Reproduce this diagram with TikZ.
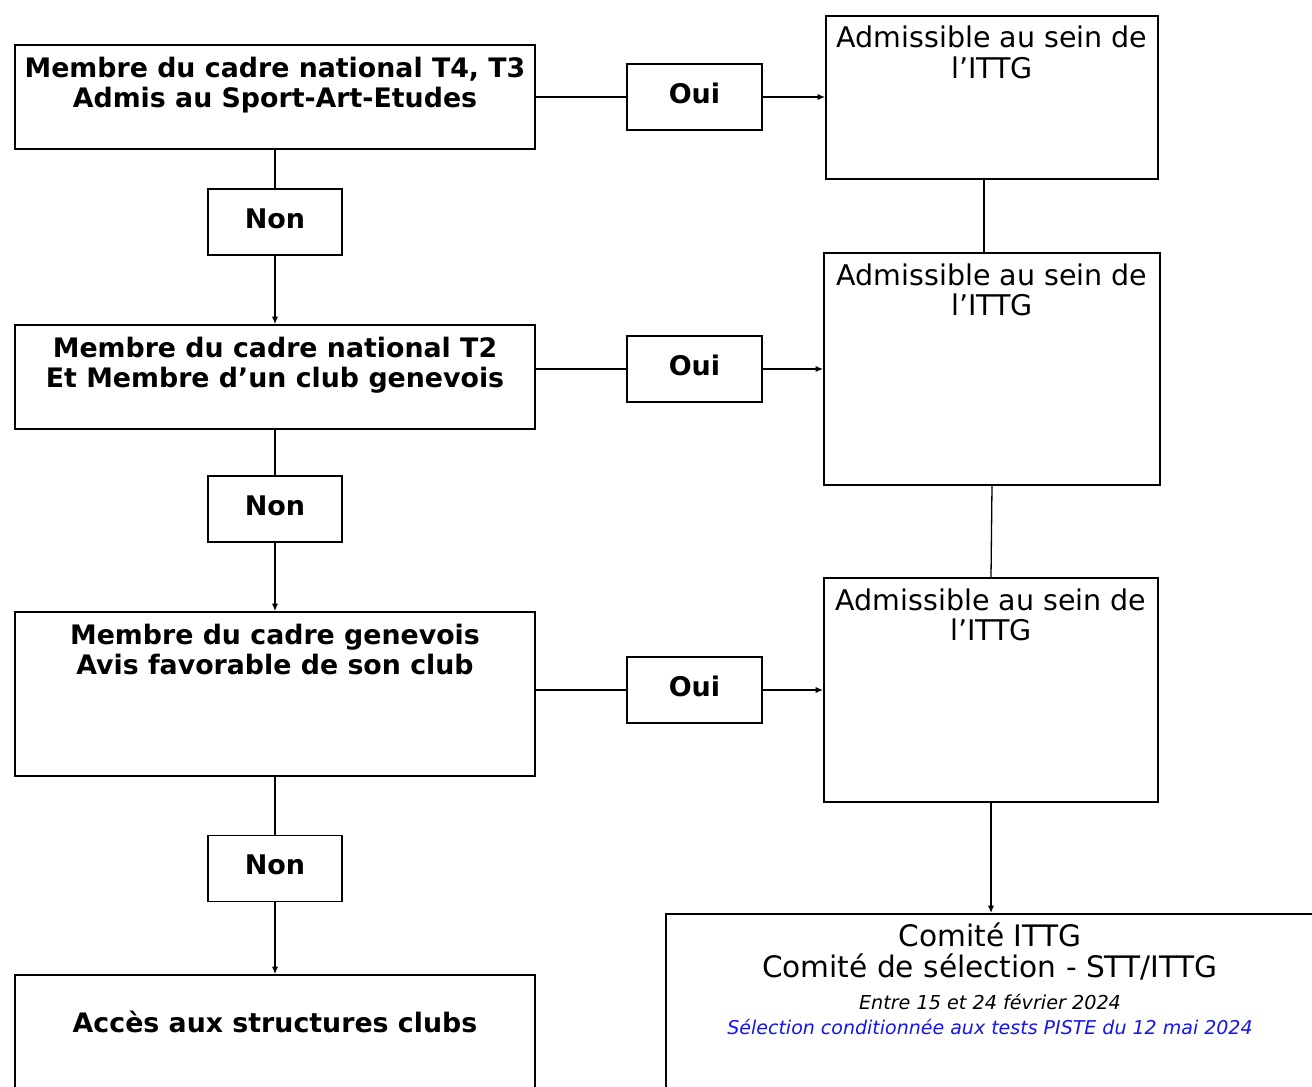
\documentclass[tikz,border=0pt]{standalone}
\usepackage{fontspec}
\setmainfont{DejaVu Sans}
\usetikzlibrary{arrows.meta}
\definecolor{linkblue}{RGB}{20,20,240}
\begin{document}
\begin{tikzpicture}[x=1pt,y=-1pt,
  bigbox/.style={draw,line width=2pt,inner sep=0pt,rectangle},
  smallbox/.style={draw,line width=1.3pt,inner sep=0pt,rectangle,minimum width=134pt,minimum height=66pt,text height=20pt,text depth=8pt,font=\fontsize{27}{30}\selectfont\bfseries},
  boldtxt/.style={anchor=base,inner sep=0pt,font=\fontsize{26.8}{30}\selectfont\bfseries},
  regtxt/.style={anchor=base,inner sep=0pt,font=\fontsize{28.5}{30}\selectfont},
  conn/.style={line width=1.3pt},
  arr/.style={line width=1.3pt,-{Latex[length=7.5pt,width=6.5pt]}}]
\useasboundingbox (0,0) rectangle (1312,1087);
% left column boxes
\node[bigbox,minimum width=520pt,minimum height=104pt] (a1) at (275,97) {};
\node[bigbox,minimum width=520pt,minimum height=104pt] (a2) at (275,377) {};
\node[bigbox,minimum width=520pt,minimum height=164pt] (a3) at (275,694) {};
\node[bigbox,minimum width=520pt,minimum height=160pt] (a4) at (275,1055) {};
\node[boldtxt] (a1t1) at (275,77) {Membre du cadre national T4, T3};
\node[boldtxt] (a1t2) at (275,107) {Admis au Sport-Art-Etudes};
\node[boldtxt] (a2t1) at (275,357) {Membre du cadre national T2};
\node[boldtxt] (a2t2) at (275,387) {Et Membre d’un club genevois};
\node[boldtxt] (a3t1) at (275,644) {Membre du cadre genevois};
\node[boldtxt] (a3t2) at (275,674) {Avis favorable de son club};
\node[boldtxt] (a4t1) at (275,1032) {Accès aux structures clubs};
% Non boxes
\node[smallbox] (n1) at (275,222) {Non};
\node[smallbox] (n2) at (275,509) {Non};
\node[smallbox] (n3) at (275,868.5) {Non};
% Oui boxes
\node[smallbox,minimum width=135pt] (o1) at (694.5,97) {Oui};
\node[smallbox,minimum width=135pt] (o2) at (694.5,369) {Oui};
\node[smallbox,minimum width=135pt] (o3) at (694.5,690) {Oui};
% right column boxes
\node[bigbox,minimum width=332pt,minimum height=163pt] (b1) at (992,97.5) {};
\node[bigbox,minimum width=336pt,minimum height=232pt] (b2) at (992,369) {};
\node[bigbox,minimum width=334pt,minimum height=224pt] (b3) at (991,690) {};
\node[regtxt] (b1t1) at (992,47) {Admissible au sein de};
\node[regtxt] (b1t2) at (992,78) {l’ITTG};
\node[regtxt] (b2t1) at (992,285) {Admissible au sein de};
\node[regtxt] (b2t2) at (992,315) {l’ITTG};
\node[regtxt] (b3t1) at (991,610) {Admissible au sein de};
\node[regtxt] (b3t2) at (991,640) {l’ITTG};
% committee box
\node[bigbox,minimum width=700pt,minimum height=250pt,anchor=north west] (c) at (665,913) {};
\node[regtxt,font=\fontsize{29.6}{30}\selectfont] (ct1) at (990,946) {Comité ITTG};
\node[regtxt,font=\fontsize{29.6}{30}\selectfont] (ct2) at (990,977) {Comité de sélection - STT/ITTG};
\node[regtxt,font=\fontsize{19.2}{22}\selectfont\itshape] (ct3) at (990,1009) {Entre 15 et 24 février 2024};
\node[regtxt,font=\fontsize{19}{22}\selectfont\itshape,text=linkblue] (ct4) at (990,1034) {Sélection conditionnée aux tests PISTE du 12 mai 2024};
% connectors left
\draw[conn] (a1.south) -- (n1.north);
\draw[arr] (n1.south) -- (a2.north);
\draw[conn] (a2.south) -- (n2.north);
\draw[arr] (n2.south) -- (a3.north);
\draw[conn] (a3.south) -- (n3.north);
\draw[arr] (n3.south) -- (a4.north);
% connectors to right
\draw[conn] (a1.east) -- (o1.west);
\draw[arr] (o1.east) -- (o1.east -| b1.west);
\draw[conn] (a2.east |- o2.west) -- (o2.west);
\draw[arr] (o2.east) -- (b2.west);
\draw[conn] (a3.east |- o3.west) -- (o3.west);
\draw[arr] (o3.east) -- (b3.west);
% right column connectors
\draw[conn] (b1.south -| 984,0) -- (984,253);
\draw[conn] (b2.south) -- (b3.north);
\draw[arr] (b3.south) -- (b3.south |- c.north);
\end{tikzpicture}
\end{document}
